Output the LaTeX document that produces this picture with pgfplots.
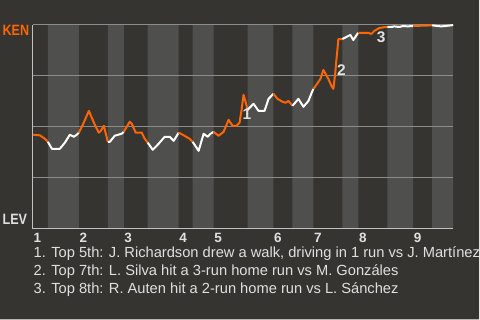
\documentclass[border=0pt]{standalone}
\usepackage{pgfplots}
\pgfplotsset{compat=1.18}
\usepackage{fontspec}
\setmainfont{Liberation Sans}
\definecolor{bgc}{HTML}{363431}
\definecolor{bandc}{HTML}{4F4F4D}
\definecolor{gridc}{HTML}{8C8C8C}
\definecolor{axisc}{HTML}{C0C0C0}
\definecolor{ora}{HTML}{FF6600}
\definecolor{txt}{HTML}{E0E0E0}
\begin{document}
\begin{tikzpicture}[x=1pt,y=1pt]
\begin{axis}[
  at={(33pt,91pt)}, anchor=south west,
  scale only axis, width=421pt, height=204pt,
  xmin=33, xmax=454, ymin=0, ymax=1,
  set layers, clip=false,
  axis x line*=bottom, axis y line*=left,
  axis line style={draw=axisc, line width=1pt},
  ymajorgrids, grid style={draw=gridc, line width=1pt},
  ytick={0.25,0.5,0.75,1}, yticklabels={},
  xtick={33,79,124,179,214,274,314,359,414},
  xticklabels={1,2,3,4,5,6,7,8,9},
  major tick length=0pt,
  /pgf/number format/assume math mode=true,
  xticklabel style={anchor=north west, inner sep=0pt, yshift=-4pt, xshift=0.5pt,
    font=\bfseries\fontsize{13.5}{14}\selectfont, text=txt},
]
% page background, on the lowest layer
\addplot[fill=bgc, draw=none, on layer=axis background] coordinates {
 (0,-0.4461) (480,-0.4461) (480,1.1226) (0,1.1226) (0,-0.4461)};
% inning half bands (light = bottom half)
\addplot[ybar interval, fill=bandc, draw=none, on layer=axis background] coordinates {
 (33,0) (48,1) (79,0) (108,1) (124,0) (148,1) (179,0) (193,1) (214,0) (248,1)
 (274,0) (293,1) (314,0) (343,1) (359,0) (388,1) (414,0) (433,1) (454,1)};
% win probability segments
\addplot[ora, line width=2pt, line join=round] coordinates {
 (33,0.461) (40,0.458) (45,0.441) (48,0.426)};
\addplot[white, line width=2pt, line join=round] coordinates {
 (48,0.426) (52,0.392) (60,0.392) (65,0.422) (70,0.461) (74,0.451) (77,0.461) (79,0.471)};
\addplot[ora, line width=2pt, line join=round] coordinates {
 (79,0.471) (83,0.510) (89,0.578) (95,0.510) (99,0.471) (101,0.480) (104,0.505) (108,0.426)};
\addplot[white, line width=2pt, line join=round] coordinates {
 (108,0.426) (110,0.426) (115,0.456) (122,0.466) (124,0.475)};
\addplot[ora, line width=2pt, line join=round] coordinates {
 (124,0.475) (130,0.525) (132,0.515) (136,0.471) (142,0.471) (145,0.441) (148,0.422)};
\addplot[white, line width=2pt, line join=round] coordinates {
 (148,0.422) (153,0.387) (159,0.417) (165,0.451) (170,0.451) (174,0.431) (179,0.471)};
\addplot[ora, line width=2pt, line join=round] coordinates {
 (179,0.471) (183,0.461) (190,0.441) (193,0.426)};
\addplot[white, line width=2pt, line join=round] coordinates {
 (193,0.426) (199,0.382) (204,0.466) (208,0.451) (211,0.466) (214,0.475)};
\addplot[ora, line width=2pt, line join=round] coordinates {
 (214,0.475) (219,0.456) (224,0.475) (229,0.534) (233,0.505) (237,0.505) (240,0.520)
 (242,0.583) (244,0.657) (246,0.623) (248,0.583)};
\addplot[white, line width=2pt, line join=round] coordinates {
 (248,0.583) (254,0.613) (259,0.578) (265,0.578) (269,0.637) (274,0.662)};
\addplot[ora, line width=2pt, line join=round] coordinates {
 (274,0.662) (278,0.637) (283,0.623) (286,0.618) (289,0.627) (293,0.603)};
\addplot[white, line width=2pt, line join=round] coordinates {
 (293,0.603) (299,0.637) (304,0.598) (309,0.627) (313,0.676) (314,0.686)};
\addplot[ora, line width=2pt, line join=round] coordinates {
 (314,0.686) (317,0.706) (321,0.735) (324,0.779) (329,0.735) (332,0.701) (334,0.686)
 (336,0.770) (337,0.828) (338,0.877) (339,0.931) (343,0.931)};
\addplot[white, line width=2pt, line join=round] coordinates {
 (343,0.931) (347,0.941) (351,0.951) (354,0.926) (358,0.956) (359,0.961)};
\addplot[ora, line width=2pt, line join=round] coordinates {
 (359,0.961) (369,0.961) (372,0.956) (375,0.971) (380,0.985) (386,0.990) (388,0.990)};
\addplot[white, line width=2pt, line join=round] coordinates {
 (388,0.990) (392,0.990) (395,0.993) (400,0.990) (404,0.995) (408,0.993) (414,0.995)};
\addplot[ora, line width=2pt, line join=round] coordinates {
 (414,0.995) (433,0.998)};
\addplot[white, line width=2pt, line join=round] coordinates {
 (433,0.998) (438,0.995) (442,0.993) (446,0.995) (452,0.998) (454,1.0)};
% event markers
\node[font=\bfseries\fontsize{15.5}{16}\selectfont, text=txt, inner sep=0pt] at (axis cs:247.5,0.564) {1};
\node[font=\bfseries\fontsize{15.5}{16}\selectfont, text=txt, inner sep=0pt] at (axis cs:342,0.779) {2};
\node[font=\bfseries\fontsize{15.5}{16}\selectfont, text=txt, inner sep=0pt] at (axis cs:382,0.941) {3};
\end{axis}
\node[anchor=base west, inner sep=0pt, xscale=0.84, text=ora, font=\bfseries\fontsize{15}{16}\selectfont] at (2.5,284) {KEN};
\node[anchor=base west, inner sep=0pt, xscale=0.84, text=txt, font=\bfseries\fontsize{15}{16}\selectfont] at (2.5,95) {LEV};
\begin{scope}[every node/.style={anchor=base west, inner sep=0pt, text=txt, font=\fontsize{14.7}{18}\selectfont}]
\node at (33.5,62) {1. Top 5th: J. Richardson drew a walk, driving in 1 run vs J. Martínez};
\node at (33.5,44) {2. Top 7th: L. Silva hit a 3-run home run vs M. Gonzáles};
\node at (33.5,26) {3. Top 8th: R. Auten hit a 2-run home run vs L. Sánchez};
\end{scope}
\useasboundingbox (0,0) rectangle (480,320);
\end{tikzpicture}
\end{document}
